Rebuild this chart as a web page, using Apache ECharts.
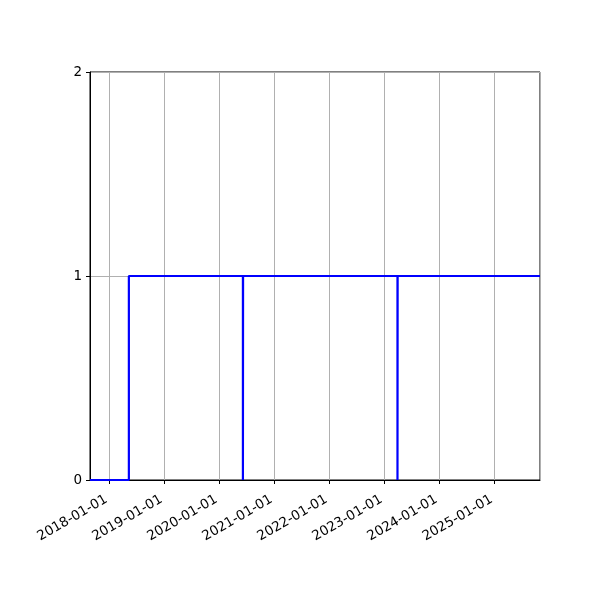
<!DOCTYPE html>
<html><head><meta charset="utf-8">
<script src="https://cdn.jsdelivr.net/npm/echarts@6/dist/echarts.min.js"></script>
<style>html,body{margin:0;padding:0;background:#fff}#c{width:600px;height:600px}</style>
</head><body><div id="c"></div>
<script>
const dates = ['2017-08-28','2018-05-13','2020-06-08','2020-06-09','2023-03-31','2023-04-01','2025-11-01'];
const values = [0, 1, 0, 1, 0, 1, 1];
const yTicks = [0, 1, 2];
const xMin = '2017-08-28', xMax = '2025-11-01';

const chart = echarts.init(document.getElementById('c'));
const F = 'DejaVu Sans';
chart.setOption({
  animation: false,
  grid: {left: 90, right: 60, top: 72, bottom: 120, show: true, borderColor: '#000', borderWidth: 1, backgroundColor: 'transparent'},
  xAxis: {
    type: 'time',
    min: xMin, max: xMax,
    minInterval: 365*86400000, maxInterval: 366*86400000,
    axisLine: {show: true, lineStyle: {color: '#000', width: 1}},
    axisTick: {show: true, inside: false, length: 4, lineStyle: {color: '#000'}},
    splitLine: {show: true, lineStyle: {color: '#b0b0b0', width: 1}},
    axisLabel: {rotate: 30, fontFamily: F, fontSize: 13.5, color: '#000', margin: 17, padding: [0, 3, 0, 0],
      formatter: '{yyyy}-{MM}-{dd}', showMinLabel: false, showMaxLabel: false, hideOverlap: false}
  },
  yAxis: {
    type: 'value', min: yTicks[0], max: yTicks[yTicks.length-1], interval: 1,
    axisLine: {show: true, lineStyle: {color: '#000', width: 1}},
    axisTick: {show: true, inside: false, length: 4, lineStyle: {color: '#000'}},
    splitLine: {show: true, lineStyle: {color: '#b0b0b0', width: 1}},
    axisLabel: {fontFamily: F, fontSize: 13.5, color: '#000', margin: 8}
  },
  series: [{
    type: 'line', step: 'end', showSymbol: false,
    lineStyle: {color: '#0000ff', width: 2.2},
    data: dates.map((d, i) => [d, values[i]])
  }]
});
</script></body></html>
